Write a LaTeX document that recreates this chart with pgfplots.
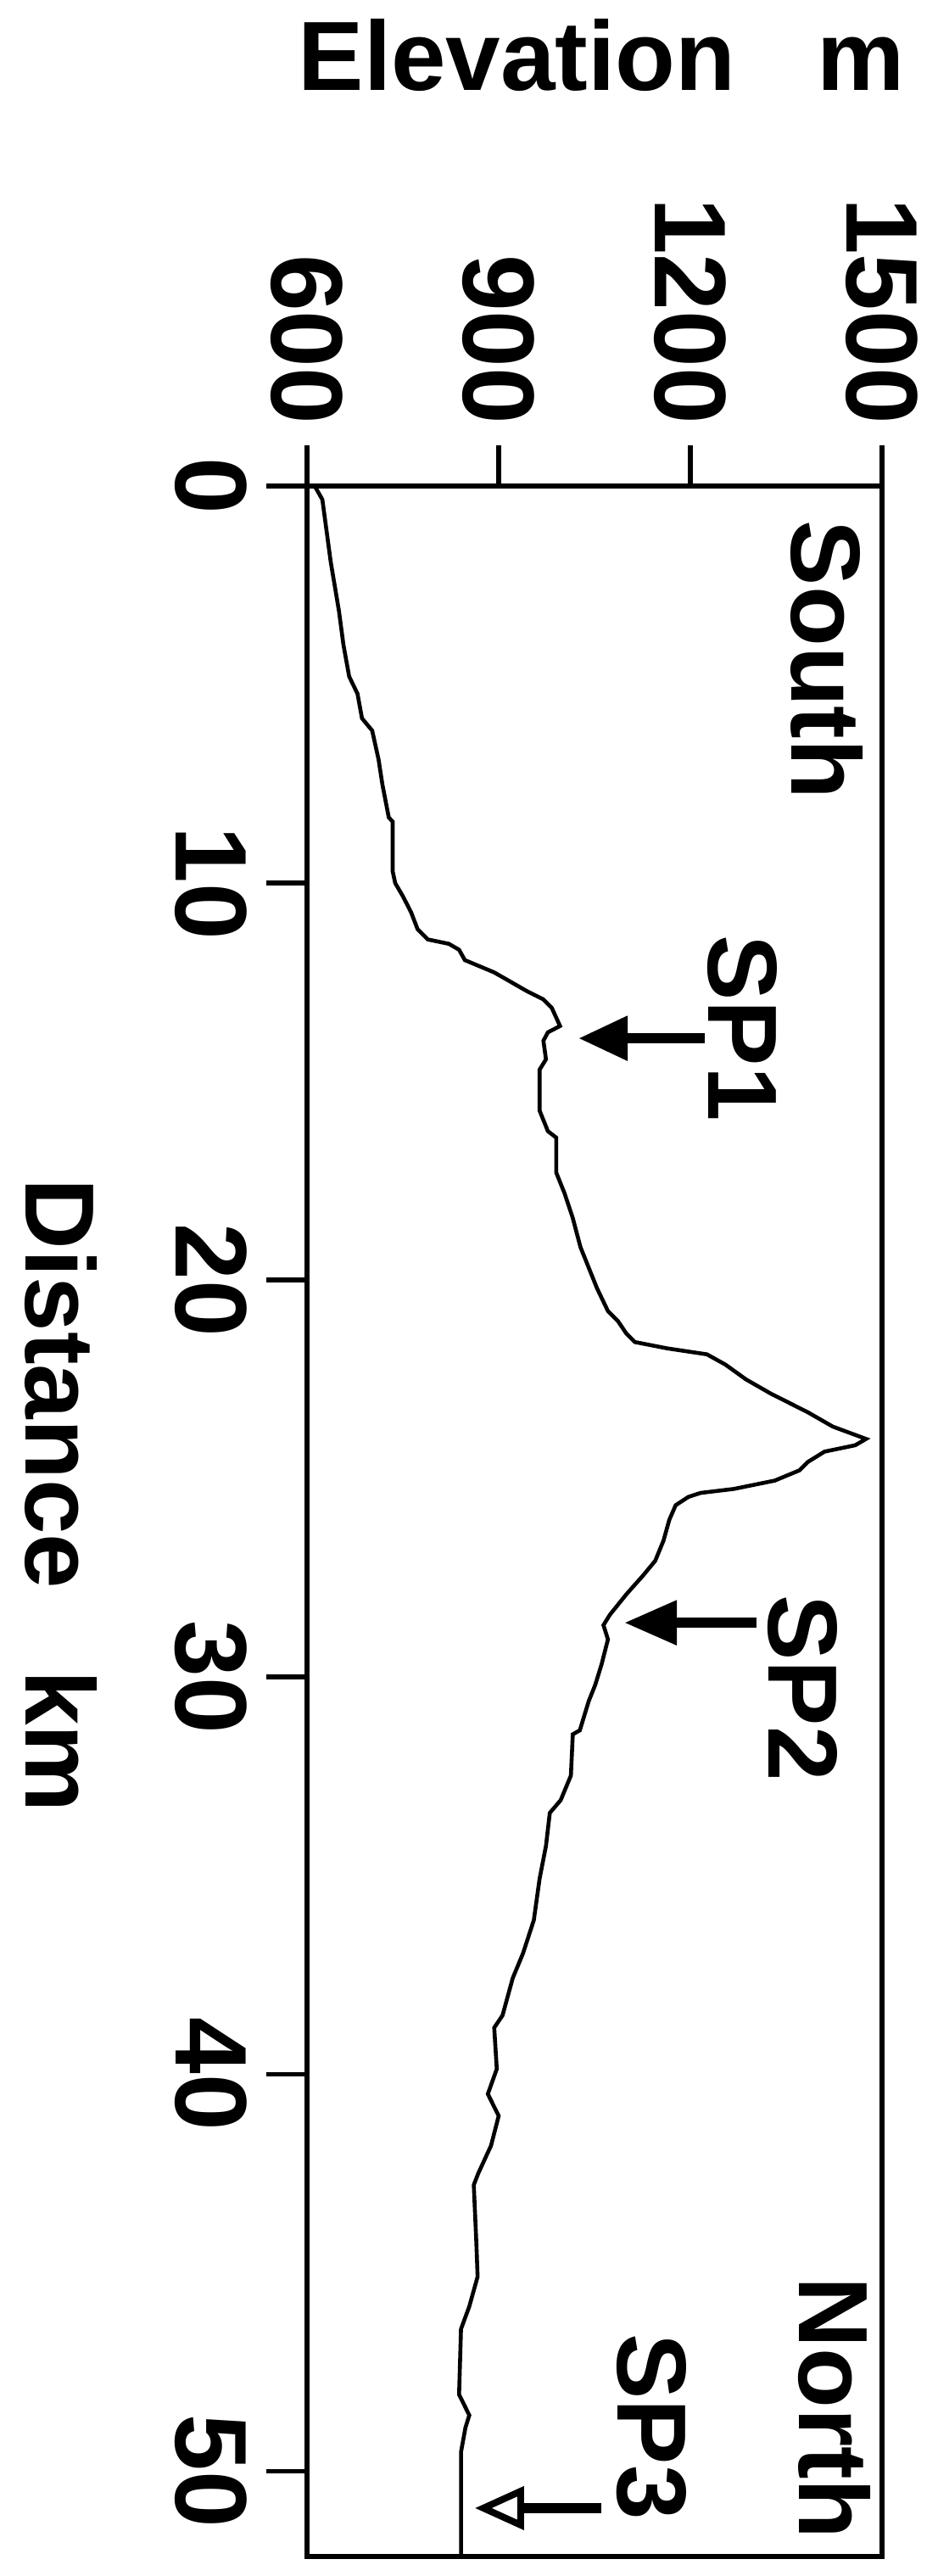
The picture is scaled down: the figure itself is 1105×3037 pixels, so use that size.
\documentclass[border=0pt]{standalone}
\usepackage{fontspec}
\setmainfont{Liberation Sans}
\usepackage{pgfplots}
\pgfplotsset{compat=1.18}
\usetikzlibrary{arrows.meta}
\newcommand\lbl{\fontsize{29}{34}\selectfont\bfseries}
\newcommand\tlbl{\fontsize{30}{35}\selectfont\bfseries}
\begin{document}
\begin{tikzpicture}[x=0.25pt,y=-0.25pt]
\useasboundingbox (0,0) rectangle (1105,3037);
\begin{axis}[
  at={(175.25pt,-448.375pt)}, anchor=center,
  width=169.5pt, height=610.25pt, scale only axis,
  xmin=600, xmax=1500, ymin=0, ymax=52.15, y dir=reverse,
  axis line style={line width=1.4pt},
  xtick={600,900,1200,1500}, ytick={0,10,20,30,40,50},
  xtick pos=upper, xticklabel pos=upper,
  ytick pos=left, yticklabel pos=left,
  tick align=outside, major tick length=12pt,
  tick style={line width=1.4pt, black},
  minor tick num=0,
  /pgf/number format/1000 sep={},
  /pgf/number format/assume math mode=true,
  ticklabel style={font=\tlbl, inner sep=0pt},
  xticklabel style={rotate=-90, anchor=east},
  yticklabel style={rotate=-90, anchor=north},
  xticklabel shift=6pt, yticklabel shift=5.5pt,
  clip=false,
]
\addplot[line width=1.15pt, black] table {
E D
612 0.0
624 0.34
637 1.9
650 3.15
657 4.0
666 4.8
679 5.23
686 5.85
702 6.16
712 6.89
718 7.52
728 8.35
734 8.45
734 9.70
738 10.0
750 10.33
763 10.74
773 11.16
789 11.42
822 11.53
838 11.68
847 11.94
893 12.25
944 12.72
970 12.93
983 13.14
996 13.6
977 13.76
970 13.97
974 14.44
964 14.7
964 15.5
964 15.73
977 16.25
990 16.41
990 17.29
1003 17.81
1016 18.44
1028 19.17
1041 19.69
1054 20.21
1071 20.78
1087 21.04
1100 21.35
1113 21.56
1164 21.72
1226 21.87
1255 22.13
1287 22.50
1326 22.86
1384 23.33
1423 23.69
1475 24.0
1458 24.16
1410 24.32
1384 24.58
1371 24.79
1332 25.05
1268 25.26
1216 25.36
1197 25.46
1177 25.67
1167 26.04
1158 26.56
1145 27.07
1126 27.44
1100 27.91
1074 28.43
1064 28.69
1071 29.05
1061 29.68
1051 30.2
1041 30.6
1027 31.34
1016 31.44
1013 32.48
997 33.1
980 33.42
974 34.25
964 35.08
955 36.12
938 36.96
922 37.58
906 38.52
893 38.83
897 39.87
883 40.5
900 41.05
888 41.8
868 42.5
861 42.79
865 44.24
867 45.1
854 45.85
841 46.42
838 48.07
854 48.59
848 48.90
841 49.52
841 52.15
};
\draw[line width=3pt, -{Triangle[length=14.5pt,width=12.5pt]}] (axis cs:1222.6,13.91) -- (axis cs:1024.8,13.91);
\draw[line width=3pt, -{Triangle[length=15.5pt,width=12.5pt]}] (axis cs:1303.5,28.63) -- (axis cs:1096.5,28.63);
\draw[line width=3pt, -{Triangle[open,length=14.5pt,width=12.5pt,line width=2pt]}] (axis cs:1060.6,50.93) -- (axis cs:862.8,50.93);
\node[font=\lbl, rotate=-90, inner sep=0pt] at (axis cs:1282,13.65) {SP1};
\node[font=\lbl, rotate=-90, inner sep=0pt] at (axis cs:1376,30.27) {SP2};
\node[font=\lbl, rotate=-90, inner sep=0pt] at (axis cs:1139.6,48.88) {SP3};
\node[font=\lbl, rotate=-90, inner sep=0pt] at (axis cs:1413,4.38) {South};
\node[font=\lbl, rotate=-90, inner sep=0pt] at (axis cs:1425,48.41) {North};
\end{axis}
\node[font=\lbl, anchor=base west, inner sep=0pt] at (351,107) {Elevation\hspace{24pt}m};
\node[font=\lbl, rotate=-90, anchor=base west, inner sep=0pt] at (30,1389) {Distance\hspace{24pt}km};
\end{tikzpicture}
\end{document}
